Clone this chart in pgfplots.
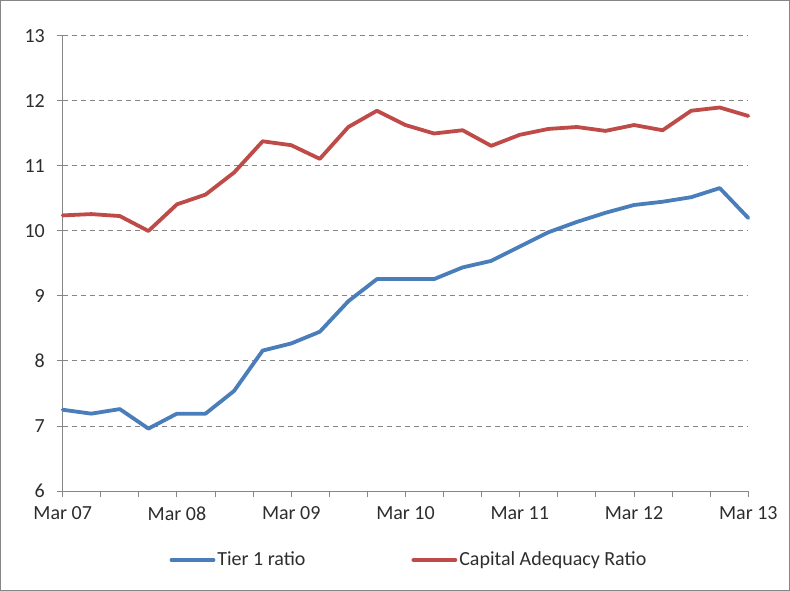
\documentclass[border=0pt]{standalone}
\usepackage{pgfplots}
\pgfplotsset{compat=1.18}
\usepackage{fontspec}
\setmainfont{Carlito}
\definecolor{tierblue}{RGB}{74,126,187}
\definecolor{carred}{RGB}{190,75,72}
\definecolor{gridgray}{RGB}{134,134,134}
\definecolor{axgray}{RGB}{134,134,134}
\definecolor{txt}{RGB}{45,45,45}
\pgfplotstableread{
m tier car
0  7.25 10.24
3  7.19 10.26
6  7.26 10.23
9  6.96 10.00
12 7.19 10.41
15 7.19 10.56
18 7.54 10.90
21 8.16 11.38
24 8.27 11.32
27 8.45 11.11
30 8.92 11.60
33 9.26 11.85
36 9.26 11.63
39 9.26 11.50
42 9.44 11.55
45 9.54 11.31
48 9.76 11.48
51 9.98 11.57
54 10.14 11.60
57 10.28 11.54
60 10.40 11.63
63 10.45 11.55
66 10.52 11.85
69 10.66 11.90
72 10.20 11.77
}\datatable
\begin{document}
\fontsize{20bp}{24bp}\selectfont
\begin{tikzpicture}
\begin{axis}[
  name=ax,
  scale only axis,
  width=685.6bp, height=455bp,
  xmin=0, xmax=72, ymin=6, ymax=13,
  clip=false,
  axis x line*=bottom, axis y line*=left,
  axis line style={axgray, line width=1bp, -},
  xtick={0,12,...,72},
  minor xtick={4,8,16,20,28,32,40,44,52,56,64,68},
  xticklabels={Mar 07,Mar 08,Mar 09,Mar 10,Mar 11,Mar 12,Mar 13},
  ytick={6,7,...,13},
  tick align=outside,
  major tick length=6bp, minor tick length=6bp,
  tick style={axgray, line width=1bp},
  ymajorgrids,
  major grid style={gridgray, line width=1bp, dash pattern=on 5.5bp off 3.5bp},
  /pgf/number format/assume math mode=true,
  tick label style={font=\fontsize{20bp}{24bp}\selectfont, text=txt},
  yticklabel style={xshift=-5bp},
  xticklabel style={yshift=-3bp},
  legend columns=2,
  legend style={at={(0.5,0)}, anchor=center, yshift=-69bp, xshift=3.5bp,
    draw=none, fill=none, font=\fontsize{20bp}{24bp}\selectfont, text=txt,
    /tikz/every even column/.append style={column sep=104bp}},
  legend image code/.code={\draw[#1] (0bp,0bp) -- (42bp,0bp);},
  every axis plot/.append style={line width=3.8bp, line join=round, line cap=round},
]
\addplot[tierblue, no marks] table[x=m, y=tier] {\datatable};
\addlegendentry{Tier 1 ratio}
\addplot[carred, no marks] table[x=m, y=car] {\datatable};
\addlegendentry{Capital Adequacy Ratio}
\end{axis}
\draw[axgray, line width=1bp, shift={(ax.south west)}] (-62.2bp,-99.5bp) rectangle (726.8bp,490.5bp);
\end{tikzpicture}
\end{document}
